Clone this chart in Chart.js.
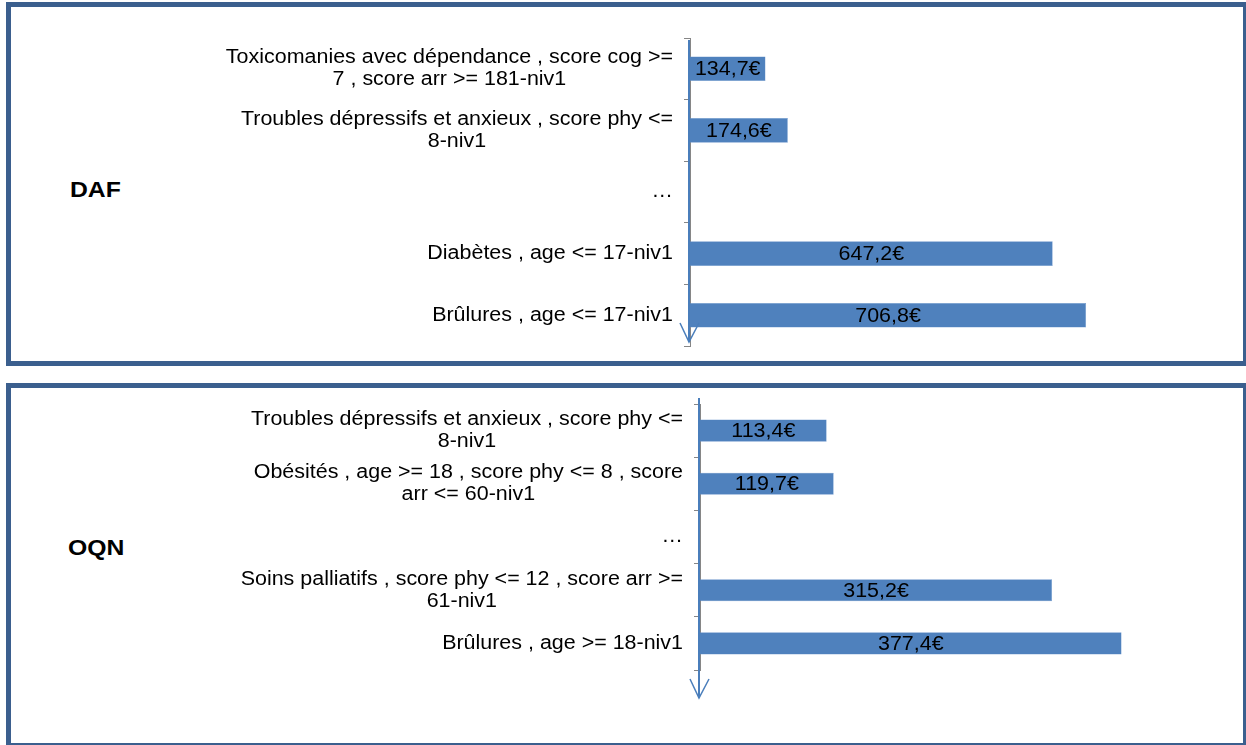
<!DOCTYPE html>
<html>
<head>
<meta charset="utf-8">
<script src="https://cdn.jsdelivr.net/npm/chart.js@4/dist/chart.umd.min.js"></script>
<style>
  body { margin: 0; background: #fff; font-family: "Liberation Sans", Arial, sans-serif; }
  .box { position: absolute; left: 6px; width: 1242px; border: 5px solid #3B5F8E; box-sizing: border-box; }
  .tag { position: absolute; font-weight: bold; font-size: 22.5px; color: #000; transform: scaleX(1.1); transform-origin: left center; }
  canvas { position: absolute; left: 0; }
</style>
</head>
<body>
<div class="box" style="top:2px;height:364px"></div>
<div class="box" style="top:383px;height:365px"></div>
<div class="tag" style="left:70px;top:177px">DAF</div>
<div class="tag" style="left:68px;top:535px">OQN</div>
<canvas id="daf" width="1246" height="372" style="top:0"></canvas>
<canvas id="oqn" width="1246" height="365" style="top:380px"></canvas>
<script>
const dafLabels = [
  ['Toxicomanies avec dépendance , score cog >=', '7 , score arr >= 181-niv1'],
  ['Troubles dépressifs et anxieux , score phy <=', '8-niv1'],
  ['…'],
  ['Diabètes , age <= 17-niv1'],
  ['Brûlures , age <= 17-niv1']
];
const dafValues = [134.7, 174.6, null, 647.2, 706.8];

const oqnLabels = [
  ['Troubles dépressifs et anxieux , score phy <=', '8-niv1'],
  ['Obésités , age >= 18 , score phy <= 8 , score', 'arr <= 60-niv1'],
  ['…'],
  ['Soins palliatifs , score phy <= 12 , score arr >=', '61-niv1'],
  ['Brûlures , age >= 18-niv1']
];
const oqnValues = [113.4, 119.7, null, 315.2, 377.4];

Chart.defaults.font.family = '"Liberation Sans", Arial, sans-serif';
const FONT = '19.5px "Liberation Sans", Arial, sans-serif';
const SX = 1.1; // the original text is a bit wide
const BLUE = '#4F81BD';

function euro(v) {
  return v.toFixed(1).replace('.', ',') + '€';
}

function wideText(ctx, t, x, y) {
  ctx.save();
  ctx.translate(x, y);
  ctx.scale(SX, 1);
  ctx.fillText(t, 0, 0);
  ctx.restore();
}

// category labels (centred lines, block right-aligned), value labels and the arrow axis
const decor = {
  id: 'decor',
  afterDraw(chart, args, opts) {
    const ctx = chart.ctx;
    const area = chart.chartArea;
    const ys = chart.scales.y;
    ctx.save();
    ctx.font = FONT;
    ctx.fillStyle = '#000';
    ctx.textBaseline = 'middle';
    ctx.textAlign = 'center';

    chart.data.labels.forEach((lines, i) => {
      const cy = ys.getPixelForValue(i);
      const w = Math.max(...lines.map(l => ctx.measureText(l).width)) * SX;
      const cx = area.left - 17 - w / 2;
      lines.forEach((l, k) => {
        wideText(ctx, l, cx, cy + (k - (lines.length - 1) / 2) * 22);
      });
    });

    const vals = chart.data.datasets[0].data;
    chart.getDatasetMeta(0).data.forEach((bar, i) => {
      if (vals[i] == null) return;
      const p = bar.getProps(['x', 'y', 'base'], true);
      wideText(ctx, euro(vals[i]), (p.x + p.base) / 2, p.y + 1);
    });

    // blue axis line with open arrow head
    const x = area.left;
    const tip = area.bottom + opts.tip;
    ctx.strokeStyle = '#4A7EBB';
    ctx.lineWidth = 2;
    ctx.beginPath();
    ctx.moveTo(x - 1, area.top + opts.start);
    ctx.lineTo(x - 1, tip);
    ctx.stroke();
    ctx.lineWidth = 1.5;
    ctx.beginPath();
    ctx.moveTo(x - 10, tip - 19);
    ctx.lineTo(x - 1, tip);
    ctx.lineTo(x + 9, tip - 19);
    ctx.stroke();
    ctx.restore();
  }
};

function makeChart(id, labels, values, opt) {
  return new Chart(document.getElementById(id), {
    type: 'bar',
    data: {
      labels: labels,
      datasets: [{
        data: values,
        backgroundColor: BLUE,
        borderColor: '#6A95CC',
        borderWidth: 0.5,
        barPercentage: opt.bar,
        categoryPercentage: 1
      }]
    },
    options: {
      indexAxis: 'y',
      responsive: false,
      animation: false,
      layout: { padding: { left: 0, right: opt.right, top: opt.top, bottom: opt.bottom } },
      plugins: {
        legend: { display: false },
        tooltip: { enabled: false },
        decor: { tip: opt.tip, start: opt.start }
      },
      scales: {
        x: { display: false, min: 0, max: opt.max },
        y: {
          offset: true,
          ticks: { display: false },
          grid: { drawOnChartArea: false, offset: true, tickLength: 6, color: '#868686', tickColor: '#868686' },
          border: { display: true, color: '#868686', width: 1 },
          afterFit(scale) { scale.width = opt.left; }
        }
      }
    },
    plugins: [decor]
  });
}

makeChart('daf', dafLabels, dafValues, { left: 690, right: 18, top: 38, bottom: 26, max: 960, bar: 0.4, tip: -4, start: 2 });
makeChart('oqn', oqnLabels, oqnValues, { left: 700, right: 21, top: 24, bottom: 75, max: 470, bar: 0.415, tip: 28, start: -6 });
</script>
</body>
</html>
